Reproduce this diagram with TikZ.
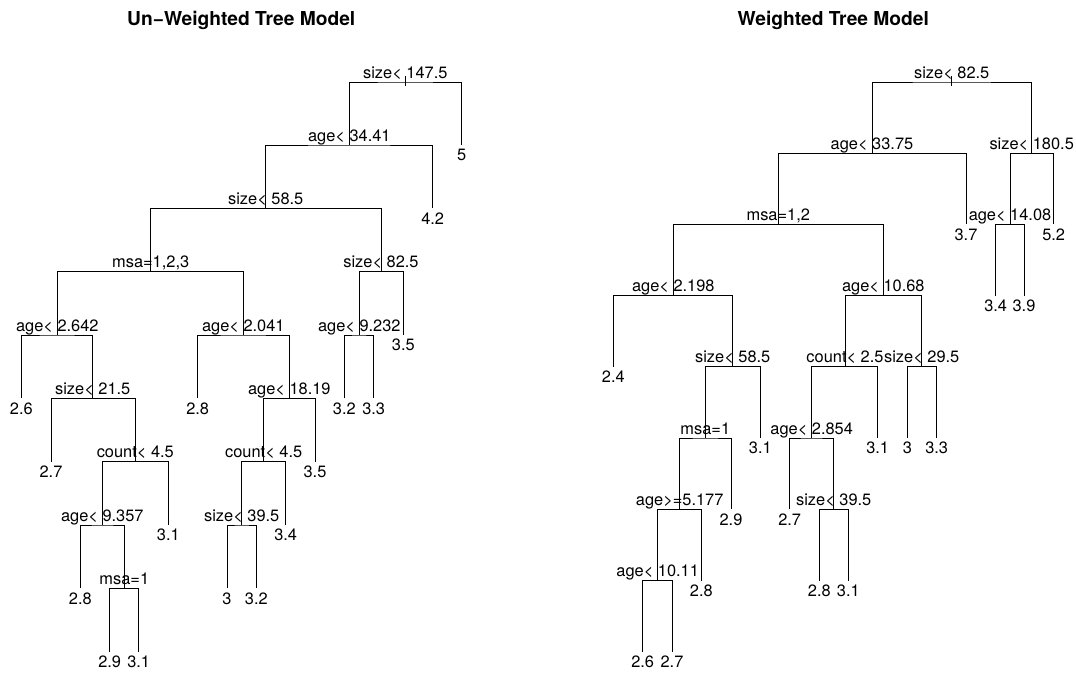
\documentclass[tikz,border=0pt]{standalone}
\usepackage{fontspec}
\setmainfont{TeX Gyre Heros}
\tikzset{
  branch/.style={line width=0.9pt, black, line cap=butt},
  splitlbl/.style={anchor=base, inner sep=0pt, font=\fontsize{16.4}{18}\selectfont, yshift=3.8pt},
  leaflbl/.style={anchor=base, inner sep=0pt, font=\fontsize{16.4}{18}\selectfont, yshift=-15.7pt},
  titlelbl/.style={anchor=base, inner sep=0pt, font=\fontsize{19.2}{22}\selectfont\bfseries}
}
\newcommand\splitpt[4]{\coordinate (#1) at (#2,#3); \node[splitlbl] (#1t) at (#1) {#4};}
\newcommand\leafpt[4]{\coordinate (#1) at (#2,#3); \node[leaflbl] (#1t) at (#1) {#4};}
\begin{document}
\begin{tikzpicture}[x=1pt,y=-1pt]
\useasboundingbox (0,0) rectangle (1076,675);
\node[titlelbl] (titleA) at (241.2,25.7) {Un−Weighted Tree Model};
\node[titlelbl] (titleB) at (833.3,25.7) {Weighted Tree Model};

% ---------------- left tree ----------------
\splitpt{a1}{405.3}{82}{size< 147.5}
\splitpt{a2}{349.3}{145}{age< 34.41}
\leafpt{a3}{461.7}{145}{5}
\splitpt{a4}{265.7}{208.3}{size< 58.5}
\leafpt{a5}{432.7}{208.3}{4.2}
\splitpt{a6}{150.7}{271.7}{msa=1,2,3}
\splitpt{a7}{381}{271.7}{size< 82.5}
\splitpt{a8}{57.3}{335}{age< 2.642}
\splitpt{a9}{243.3}{335}{age< 2.041}
\splitpt{a10}{359.3}{335}{age< 9.232}
\leafpt{a11}{403.3}{335}{3.5}
\leafpt{a12}{21.3}{398.3}{2.6}
\splitpt{a13}{92.7}{398.3}{size< 21.5}
\leafpt{a14}{197.7}{398.3}{2.8}
\splitpt{a15}{289.3}{398.3}{age< 18.19}
\leafpt{a16}{344.3}{398.3}{3.2}
\leafpt{a17}{373.7}{398.3}{3.3}
\leafpt{a18}{51}{461.7}{2.7}
\splitpt{a19}{135.3}{461.7}{count< 4.5}
\splitpt{a20}{263.7}{461.7}{count< 4.5}
\leafpt{a21}{315}{461.7}{3.5}
\splitpt{a22}{102.3}{525}{age< 9.357}
\leafpt{a23}{168.3}{525}{3.1}
\splitpt{a24}{241.7}{525}{size< 39.5}
\leafpt{a25}{285.7}{525}{3.4}
\leafpt{a26}{80.3}{588.3}{2.8}
\splitpt{a27}{124.3}{588.3}{msa=1}
\leafpt{a28}{227}{588.3}{3}
\leafpt{a29}{256.3}{588.3}{3.2}
\leafpt{a30}{109.7}{651.7}{2.9}
\leafpt{a31}{138.7}{651.7}{3.1}

\coordinate (a1tickA) at (405.3,76);
\coordinate (a1tickB) at (405.3,86);
\draw[branch] (a1tickA) -- (a1tickB);
\draw[branch] (a2) |- (a1) -| (a3);
\draw[branch] (a4) |- (a2) -| (a5);
\draw[branch] (a6) |- (a4) -| (a7);
\draw[branch] (a8) |- (a6) -| (a9);
\draw[branch] (a10) |- (a7) -| (a11);
\draw[branch] (a12) |- (a8) -| (a13);
\draw[branch] (a14) |- (a9) -| (a15);
\draw[branch] (a16) |- (a10) -| (a17);
\draw[branch] (a18) |- (a13) -| (a19);
\draw[branch] (a20) |- (a15) -| (a21);
\draw[branch] (a22) |- (a19) -| (a23);
\draw[branch] (a24) |- (a20) -| (a25);
\draw[branch] (a26) |- (a22) -| (a27);
\draw[branch] (a28) |- (a24) -| (a29);
\draw[branch] (a30) |- (a27) -| (a31);

% ---------------- right tree ----------------
\splitpt{b1}{951.7}{82}{size< 82.5}
\splitpt{b2}{872}{153.3}{age< 33.75}
\splitpt{b3}{1031.7}{153.3}{size< 180.5}
\splitpt{b4}{778.3}{224.3}{msa=1,2}
\leafpt{b5}{966}{224.3}{3.7}
\splitpt{b6}{1010}{224.3}{age< 14.08}
\leafpt{b7}{1053.7}{224.3}{5.2}
\splitpt{b8}{673.3}{295.7}{age< 2.198}
\splitpt{b9}{883.3}{295.7}{age< 10.68}
\leafpt{b10}{995.7}{295.7}{3.4}
\leafpt{b11}{1024}{295.7}{3.9}
\leafpt{b12}{613.3}{366.7}{2.4}
\splitpt{b13}{732.7}{366.7}{size< 58.5}
\splitpt{b14}{845}{366.7}{count< 2.5}
\splitpt{b15}{921.7}{366.7}{size< 29.5}
\splitpt{b16}{705.3}{438}{msa=1}
\leafpt{b17}{760.3}{438}{3.1}
\splitpt{b18}{811.7}{438}{age< 2.854}
\leafpt{b19}{877.7}{438}{3.1}
\leafpt{b20}{907.3}{438}{3}
\leafpt{b21}{936.7}{438}{3.3}
\splitpt{b22}{679.7}{509.3}{age>=5.177}
\leafpt{b23}{731}{509.3}{2.9}
\leafpt{b24}{789.7}{509.3}{2.7}
\splitpt{b25}{833.7}{509.3}{size< 39.5}
\splitpt{b26}{657.7}{580.7}{age< 10.11}
\leafpt{b27}{701.3}{580.7}{2.8}
\leafpt{b28}{819.3}{580.7}{2.8}
\leafpt{b29}{848.3}{580.7}{3.1}
\leafpt{b30}{642.7}{652}{2.6}
\leafpt{b31}{672}{652}{2.7}

\coordinate (b1tickA) at (951.7,76);
\coordinate (b1tickB) at (951.7,86);
\draw[branch] (b1tickA) -- (b1tickB);
\draw[branch] (b2) |- (b1) -| (b3);
\draw[branch] (b4) |- (b2) -| (b5);
\draw[branch] (b6) |- (b3) -| (b7);
\draw[branch] (b8) |- (b4) -| (b9);
\draw[branch] (b10) |- (b6) -| (b11);
\draw[branch] (b12) |- (b8) -| (b13);
\draw[branch] (b14) |- (b9) -| (b15);
\draw[branch] (b16) |- (b13) -| (b17);
\draw[branch] (b18) |- (b14) -| (b19);
\draw[branch] (b20) |- (b15) -| (b21);
\draw[branch] (b22) |- (b16) -| (b23);
\draw[branch] (b24) |- (b18) -| (b25);
\draw[branch] (b26) |- (b22) -| (b27);
\draw[branch] (b28) |- (b25) -| (b29);
\draw[branch] (b30) |- (b26) -| (b31);
\end{tikzpicture}
\end{document}
